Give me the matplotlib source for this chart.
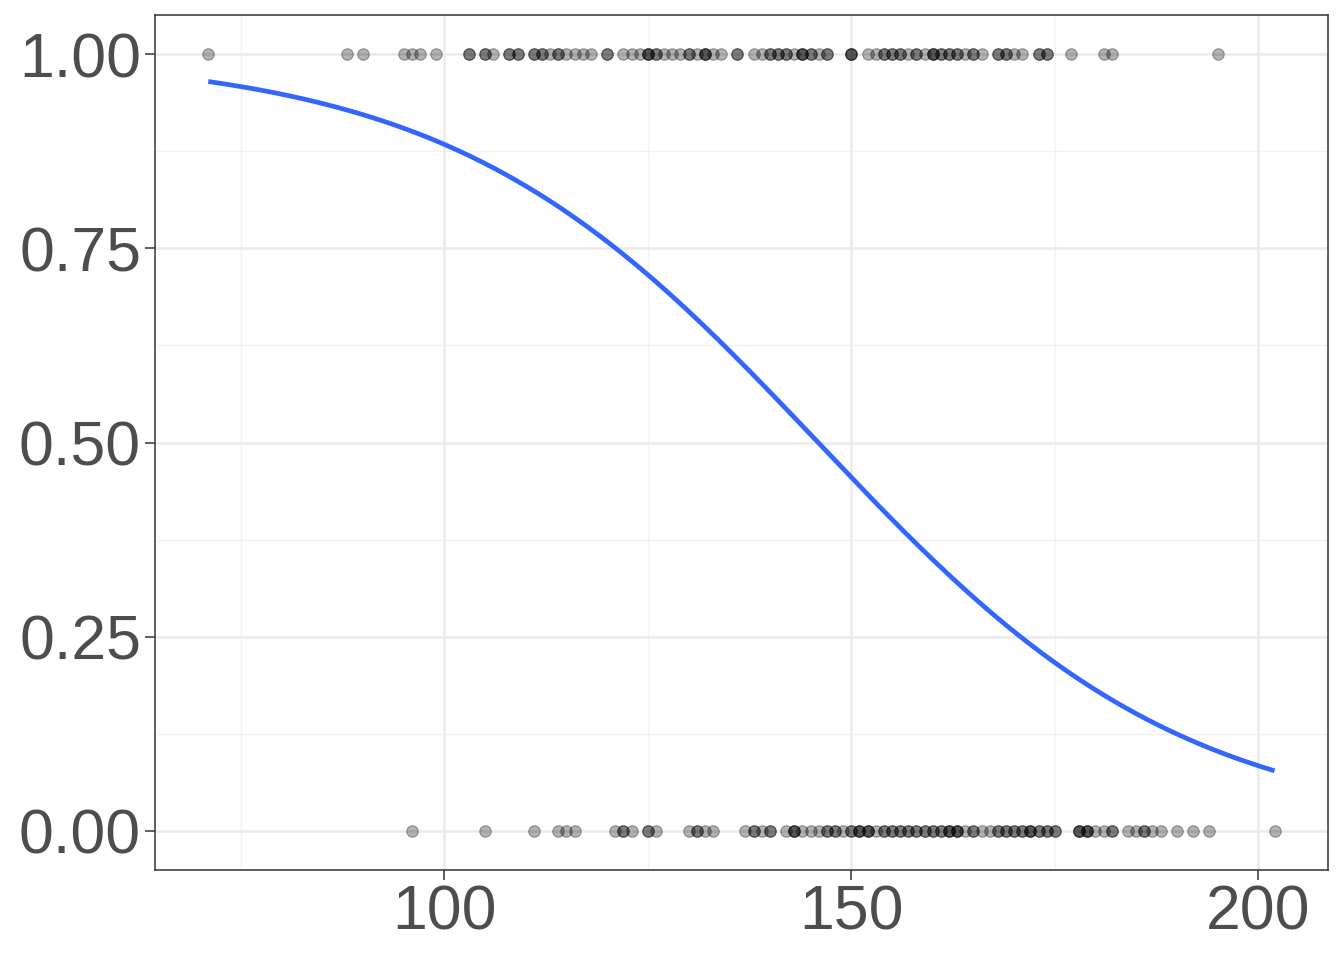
import numpy as np
import matplotlib
matplotlib.use("Agg")
import matplotlib.pyplot as plt

# x values (with repeats) for outcome = 1
x_pos = [71, 88, 90, 95, 96, 97, 99, 103, 103, 105, 105, 106, 108, 108, 109, 109,
         111, 111, 112, 112, 113, 114, 114, 115, 116, 117, 118, 120, 120, 122, 123,
         124, 125, 125, 125, 126, 126, 127, 128, 129, 130, 130, 131, 132, 132, 132,
         133, 134, 136, 136, 138, 139, 140, 140, 141, 141, 142, 142, 143, 144, 144,
         144, 145, 145, 146, 147, 147, 150, 150, 150, 152, 153, 154, 154, 155, 155,
         156, 156, 157, 158, 158, 159, 160, 160, 160, 161, 161, 162, 162, 163, 163,
         164, 165, 165, 166, 168, 168, 169, 169, 170, 171, 173, 173, 174, 174, 177,
         181, 182, 195]
# x values (with repeats) for outcome = 0
x_neg = [96, 105, 111, 114, 115, 116, 121, 122, 122, 123, 125, 125, 126, 130, 131,
         131, 132, 133, 137, 138, 138, 139, 140, 140, 142, 143, 143, 143, 144, 145,
         146, 147, 147, 148, 148, 149, 150, 150, 151, 151, 151, 152, 152, 152, 153,
         154, 154, 155, 155, 156, 156, 157, 157, 158, 158, 159, 159, 160, 160, 161,
         161, 162, 162, 162, 163, 163, 163, 164, 165, 165, 166, 167, 168, 168, 169,
         169, 170, 170, 171, 171, 172, 172, 172, 173, 173, 174, 174, 175, 175, 178,
         178, 178, 179, 179, 179, 180, 181, 182, 182, 184, 185, 186, 186, 187, 188,
         190, 192, 194, 202]

# logistic smooth coefficients (logit = a + b*x)
smooth_intercept = 6.45
smooth_slope = -0.0442

x_ticks = [100, 150, 200]
y_ticks = [0.00, 0.25, 0.50, 0.75, 1.00]
y_ticklabels = ["0.00", "0.25", "0.50", "0.75", "1.00"]

x = np.array(x_pos + x_neg, dtype=float)
y = np.array([1] * len(x_pos) + [0] * len(x_neg), dtype=float)

xs = np.linspace(x.min(), x.max(), 200)
ps = 1 / (1 + np.exp(-(smooth_intercept + smooth_slope * xs)))

plt.rcParams['font.family'] = ['Liberation Sans', 'DejaVu Sans']
fig = plt.figure(figsize=(13.44, 9.6), dpi=100)
ax = fig.add_axes([0.1153, 0.094, 0.8727, 0.890])

rng_x = x.max() - x.min()
ax.set_xlim(x.min() - 0.05 * rng_x, x.max() + 0.05 * rng_x)
ax.set_ylim(-0.05, 1.05)

# grid
for v in [75, 125, 175]:
    ax.axvline(v, color='#F2F2F2', lw=1.0, zorder=0)
for v in [0.125, 0.375, 0.625, 0.875]:
    ax.axhline(v, color='#F2F2F2', lw=1.0, zorder=0)
for v in x_ticks:
    ax.axvline(v, color='#EBEBEB', lw=1.8, zorder=0)
for v in y_ticks:
    ax.axhline(v, color='#EBEBEB', lw=1.8, zorder=0)

ax.scatter(x, y, s=68, color=(0, 0, 0, 0.3), edgecolors=(0, 0, 0, 0.35),
           linewidths=0.8, zorder=2)
ax.plot(xs, ps, color='#3366FF', lw=3.4, zorder=3, solid_capstyle='butt')

ax.set_xticks(x_ticks)
ax.set_xticklabels([str(t) for t in x_ticks])
ax.set_yticks(y_ticks)
ax.set_yticklabels(y_ticklabels)
ax.tick_params(axis='both', labelsize=45, colors='#4D4D4D', length=7, width=1.1,
               color='#333333', pad=3)
for s in ax.spines.values():
    s.set_color('#333333')
    s.set_linewidth(1.1)

fig.savefig("out.png", dpi=100)
